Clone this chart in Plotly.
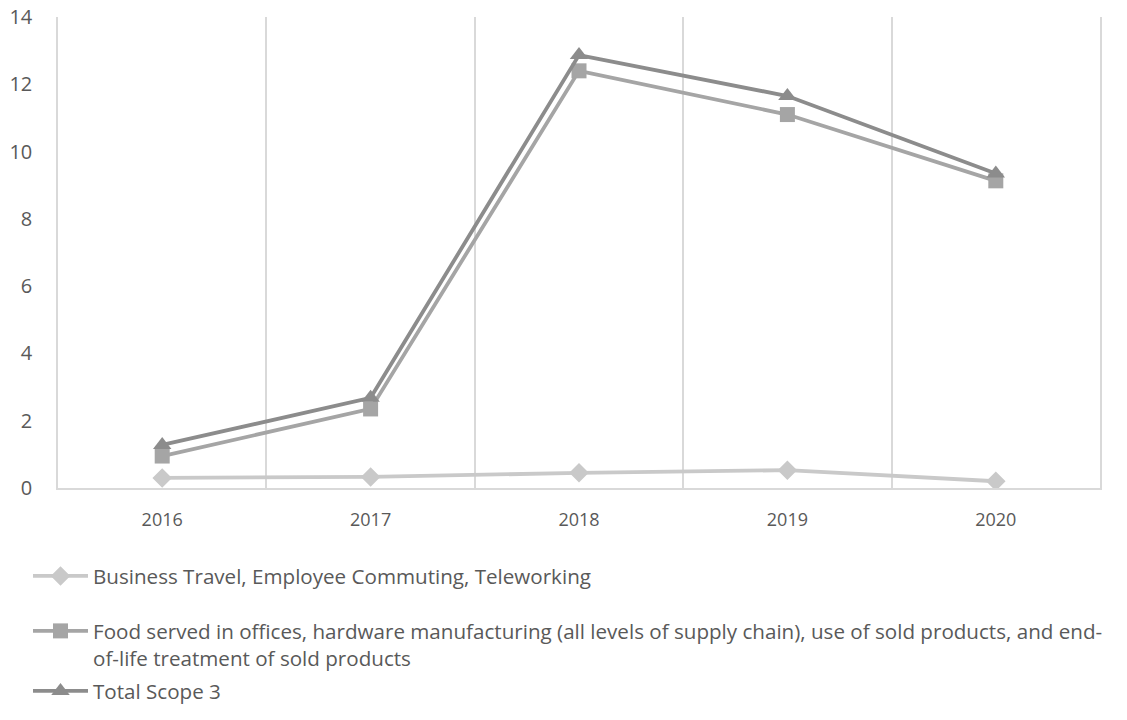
import plotly.graph_objects as go

# Scope 3 emissions by year
years = ["2016", "2017", "2018", "2019", "2020"]
business_travel = [0.30, 0.33, 0.45, 0.53, 0.20]
supply_chain = [0.95, 2.35, 12.40, 11.10, 9.13]
total_scope3 = [1.28, 2.68, 12.87, 11.65, 9.35]

names = [
    "Business Travel, Employee Commuting, Teleworking",
    "Food served in offices, hardware manufacturing (all levels of supply chain), use of sold products, and end-<br>of-life treatment of sold products",
    "Total Scope 3",
]
series = [business_travel, supply_chain, total_scope3]
colors = ["#c9c9c9", "#a5a5a5", "#8c8c8c"]
symbols = ["diamond", "square", "triangle-up"]
marker_sizes = [15, 15, 16]
legend_ids = ["legend", "legend2", "legend3"]
legend_tops = [556, 611, 671]

W, H = 1127, 720
text_color = "#595959"
font_family = "Open Sans, Liberation Sans, sans-serif"

fig = go.Figure()
for name, vals, col, sym, ms, lg in zip(names, series, colors, symbols, marker_sizes, legend_ids):
    fig.add_trace(go.Scatter(
        x=years, y=vals, name=name, mode="lines+markers",
        line=dict(color=col, width=3.8),
        marker=dict(symbol=sym, size=ms, color=col),
        legend=lg,
    ))

legend_common = dict(
    xref="container", yref="container", x=28 / W, xanchor="left", yanchor="top",
    font=dict(family=font_family, size=20.6, color=text_color),
    bgcolor="rgba(0,0,0,0)", valign="top", itemwidth=55,
)

fig.update_layout(
    width=W, height=H,
    margin=dict(l=58, r=27, t=17, b=232, autoexpand=False),
    paper_bgcolor="white", plot_bgcolor="white",
    font=dict(family=font_family, color=text_color),
    showlegend=True,
    legend=dict(**legend_common, y=1 - legend_tops[0] / H),
    legend2=dict(**legend_common, y=1 - legend_tops[1] / H),
    legend3=dict(**legend_common, y=1 - legend_tops[2] / H),
    xaxis=dict(
        # gridlines sit on category boundaries
        type="category", tickson="boundaries", range=[-0.5, 4.5],
        showgrid=True, gridcolor="#d9d9d9", gridwidth=1.5,
        showline=True, linecolor="#d9d9d9", linewidth=1.5,
        ticks="", ticklabelstandoff=15, tickangle=0,
        tickfont=dict(family=font_family, size=18, color=text_color),
        zeroline=False, fixedrange=True,
    ),
    yaxis=dict(
        # axis line mirrored to close the left and right edges
        range=[0, 14], dtick=2, tick0=0,
        showgrid=False, zeroline=False,
        showline=True, mirror=True, linecolor="#d9d9d9", linewidth=1.5,
        ticks="", ticklabelstandoff=20,
        tickfont=dict(family=font_family, size=20, color=text_color),
        fixedrange=True,
    ),
)

fig.write_html("out.html")
